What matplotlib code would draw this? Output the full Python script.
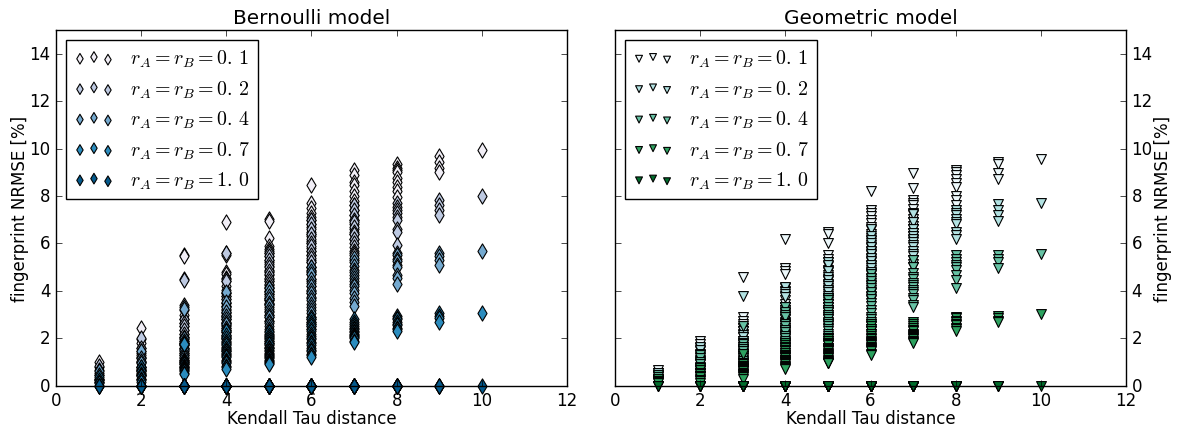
import numpy as np
import matplotlib
matplotlib.use("Agg")
import matplotlib.pyplot as plt

plt.style.use("classic")

tau = [1, 2, 3, 4, 5, 6, 7, 8, 9, 10]
rates = ["0.\\,1", "0.\\,2", "0.\\,4", "0.\\,7", "1.\\,0"]

bern_colors = ["#f1eef6", "#bdc9e1", "#74a9cf", "#2b8cbe", "#045a8d"]
geom_colors = ["#edf8fb", "#b2e2e2", "#66c2a4", "#2ca25f", "#006d2c"]

# NRMSE values, one list per Kendall Tau distance
bern_r01 = [
    [1.0, 0.8, 0.55, 0.3],
    [2.45, 1.95, 1.8, 1.6, 1.4, 1.2, 1.0, 0.8, 0.55],
    [5.5, 5.45, 3.4, 3.2, 3.0, 2.8, 2.65, 2.5, 2.35, 2.2, 2.05, 1.9, 1.75, 1.6, 1.4],
    [6.9, 5.6, 5.5, 4.8, 4.7, 4.55, 4.4, 4.2, 4.05, 3.9, 3.8, 3.65, 3.5, 3.35, 3.2, 3.05, 2.95, 2.8, 2.65, 2.5],
    [7.05, 6.95, 6.25, 5.9, 5.75, 5.6, 5.45, 5.3, 5.2, 5.05, 4.9, 4.8, 4.65, 4.5, 4.4, 4.25, 4.1, 4.0, 3.85, 3.7, 3.6, 3.45],
    [8.45, 7.7, 7.5, 7.3, 7.1, 7.0, 6.8, 6.7, 6.5, 6.4, 6.3, 6.1, 6.0, 5.8, 5.7, 5.5, 5.3, 5.2, 5.0, 4.8],
    [9.1, 8.9, 8.6, 8.45, 8.2, 8.0, 7.8, 7.6, 7.4, 7.2, 7.0, 6.8, 6.6, 6.4, 6.2],
    [9.35, 9.2, 9.1, 9.0, 8.75, 8.6, 8.4, 8.2, 7.95],
    [9.7, 9.45, 9.2, 9.0],
    [9.95],
]
bern_r02 = [
    [0.82, 0.65, 0.45, 0.25],
    [2.0, 1.6, 1.45, 1.3, 1.15, 1.0, 0.8, 0.65, 0.45],
    [4.5, 4.45, 2.8, 2.65, 2.5, 2.35, 2.2, 2.05, 1.95, 1.8, 1.7, 1.55, 1.45, 1.3, 1.15],
    [5.6, 4.5, 4.4, 3.9, 3.8, 3.65, 3.5, 3.35, 3.25, 3.1, 3.0, 2.9, 2.8, 2.65, 2.55, 2.45, 2.35, 2.25, 2.1, 2.0],
    [5.7, 5.6, 5.45, 5.3, 5.15, 5.0, 4.85, 4.7, 4.55, 4.4, 4.3, 4.15, 4.0, 3.85, 3.7, 3.6, 3.45, 3.3, 3.15, 3.0, 2.9, 2.75],
    [7.0, 6.8, 6.6, 6.4, 6.2, 6.0, 5.9, 5.7, 5.5, 5.4, 5.2, 5.0, 4.9, 4.7, 4.5, 4.4, 4.2, 4.0, 3.9, 3.7],
    [7.6, 7.4, 7.2, 7.0, 6.9, 6.7, 6.5, 6.4, 6.2, 6.0, 5.85, 5.7, 5.6, 5.5, 5.3],
    [7.7, 7.55, 7.4, 7.3, 7.1, 7.0, 6.6, 6.5, 5.95],
    [7.85, 7.6, 7.4, 7.2],
    [8.0],
]
bern_r04 = [
    [0.6, 0.45, 0.3, 0.15],
    [1.45, 1.15, 1.05, 0.95, 0.8, 0.7, 0.6, 0.45, 0.3],
    [3.3, 3.25, 2.0, 1.9, 1.8, 1.7, 1.6, 1.5, 1.4, 1.3, 1.2, 1.1, 1.0, 0.9, 0.8],
    [3.95, 3.55, 3.3, 3.1, 2.95, 2.8, 2.7, 2.6, 2.45, 2.35, 2.25, 2.15, 2.05, 1.95, 1.85, 1.75, 1.65, 1.55, 1.45, 1.35],
    [4.1, 3.95, 3.8, 3.65, 3.5, 3.4, 3.25, 3.1, 3.0, 2.9, 2.75, 2.65, 2.5, 2.4, 2.3, 2.2, 2.1, 2.0, 1.9, 1.8, 1.7, 1.6],
    [5.0, 4.85, 4.7, 4.5, 4.35, 4.2, 4.05, 3.9, 3.75, 3.6, 3.45, 3.3, 3.2, 3.05, 2.9, 2.8, 2.7, 2.6, 2.5, 2.4],
    [5.4, 5.2, 5.05, 4.9, 4.8, 4.65, 4.55, 4.4, 4.3, 4.2, 4.05, 3.9, 3.7, 3.55, 3.35],
    [5.6, 5.5, 5.35, 5.25, 5.1, 5.0, 4.65, 4.55, 4.3],
    [5.6, 5.45, 5.3, 5.1],
    [5.7],
]
bern_r07 = [
    [0.35, 0.25, 0.15, 0.1],
    [0.8, 0.65, 0.6, 0.5, 0.45, 0.4, 0.3, 0.25, 0.15],
    [1.8, 1.75, 1.1, 1.05, 1.0, 0.95, 0.9, 0.85, 0.8, 0.75, 0.7, 0.65, 0.6, 0.55, 0.5],
    [2.3, 2.15, 2.0, 1.9, 1.8, 1.7, 1.6, 1.5, 1.45, 1.4, 1.3, 1.25, 1.2, 1.1, 1.05, 1.0, 0.95, 0.85, 0.8, 0.7],
    [2.25, 2.15, 2.05, 1.95, 1.9, 1.8, 1.75, 1.65, 1.6, 1.5, 1.45, 1.4, 1.35, 1.3, 1.25, 1.2, 1.15, 1.1, 1.05, 1.0, 0.95, 0.9],
    [2.9, 2.8, 2.7, 2.6, 2.5, 2.4, 2.3, 2.2, 2.1, 2.0, 1.95, 1.85, 1.8, 1.7, 1.6, 1.5, 1.45, 1.35, 1.3, 1.2],
    [2.8, 2.7, 2.6, 2.5, 2.45, 2.4, 2.3, 2.25, 2.2, 2.15, 2.1, 2.05, 2.0, 1.9, 1.85],
    [2.95, 2.85, 2.8, 2.7, 2.6, 2.55, 2.45, 2.4, 2.3],
    [3.05, 2.95, 2.85, 2.7],
    [3.05],
]

geom_r01 = [
    [0.65, 0.55, 0.4, 0.25],
    [1.9, 1.75, 1.6, 1.45, 1.3, 1.1, 0.95, 0.75, 0.55],
    [4.6, 2.9, 2.75, 2.6, 2.45, 2.3, 2.2, 2.05, 1.9, 1.8, 1.65, 1.5, 1.4, 1.25, 1.1],
    [6.2, 4.95, 4.85, 4.7, 4.1, 4.0, 3.8, 3.6, 3.45, 3.3, 3.2, 3.05, 2.95, 2.8, 2.7, 2.55, 2.45, 2.3, 2.2, 2.1],
    [6.5, 6.4, 6.0, 5.5, 5.35, 5.2, 5.05, 4.9, 4.8, 4.65, 4.5, 4.4, 4.25, 4.1, 4.0, 3.85, 3.7, 3.6, 3.45, 3.3, 3.2, 3.1],
    [8.2, 7.4, 7.3, 7.15, 7.0, 6.85, 6.7, 6.55, 6.4, 6.25, 6.1, 5.95, 5.8, 5.65, 5.5, 5.35, 5.2, 5.05, 4.9, 4.75],
    [8.95, 8.35, 7.85, 7.7, 7.6, 7.45, 7.3, 7.2, 7.05, 6.9, 6.75, 6.6, 6.45, 6.3, 6.15],
    [9.1, 9.0, 8.9, 8.7, 8.55, 8.4, 8.0, 7.85, 7.6],
    [9.45, 9.35, 8.95, 8.7],
    [9.55],
]
geom_r02 = [
    [0.55, 0.45, 0.3, 0.2],
    [1.65, 1.5, 1.35, 1.2, 1.05, 0.9, 0.75, 0.6, 0.4],
    [3.8, 2.45, 2.3, 2.15, 2.05, 1.9, 1.8, 1.7, 1.55, 1.45, 1.35, 1.25, 1.15, 1.0, 0.9],
    [4.15, 3.95, 3.85, 3.75, 3.3, 3.2, 3.05, 2.9, 2.8, 2.65, 2.55, 2.45, 2.35, 2.25, 2.15, 2.05, 1.95, 1.85, 1.75, 1.65],
    [5.2, 5.1, 4.85, 4.6, 4.45, 4.3, 4.2, 4.05, 3.95, 3.8, 3.7, 3.55, 3.45, 3.3, 3.2, 3.1, 3.0, 2.9, 2.8, 2.65, 2.55, 2.45],
    [6.6, 6.3, 6.15, 6.0, 5.85, 5.7, 5.55, 5.4, 5.25, 5.1, 4.95, 4.8, 4.65, 4.5, 4.35, 4.2, 4.05, 3.9, 3.75, 3.6],
    [7.25, 6.9, 6.6, 6.45, 6.3, 6.2, 6.05, 5.95, 5.85, 5.7, 5.55, 5.45, 5.3, 5.15, 5.0],
    [7.4, 7.3, 7.2, 7.05, 6.9, 6.8, 6.5, 6.35, 6.2],
    [7.65, 7.4, 7.2, 6.95],
    [7.7],
]
geom_r04 = [
    [0.45, 0.35, 0.25, 0.15],
    [1.3, 1.15, 1.0, 0.9, 0.8, 0.65, 0.55, 0.4, 0.3],
    [2.5, 1.75, 1.65, 1.55, 1.45, 1.35, 1.25, 1.15, 1.05, 0.95, 0.85, 0.75, 0.7, 0.6, 0.5],
    [3.3, 3.1, 3.0, 2.9, 2.6, 2.5, 2.35, 2.25, 2.1, 2.0, 1.9, 1.8, 1.7, 1.6, 1.5, 1.4, 1.3, 1.2, 1.1, 1.0],
    [3.7, 3.6, 3.45, 3.3, 3.2, 3.1, 3.0, 2.9, 2.8, 2.7, 2.6, 2.5, 2.4, 2.3, 2.2, 2.1, 2.0, 1.9, 1.8, 1.7, 1.6, 1.5],
    [4.7, 4.55, 4.4, 4.25, 4.1, 3.95, 3.8, 3.65, 3.5, 3.35, 3.2, 3.05, 2.9, 2.8, 2.7, 2.6, 2.5, 2.4, 2.3, 2.2],
    [5.3, 5.0, 4.75, 4.6, 4.5, 4.35, 4.25, 4.15, 4.05, 3.95, 3.85, 3.7, 3.6, 3.4, 3.3],
    [5.5, 5.35, 5.2, 5.1, 5.0, 4.9, 4.65, 4.45, 4.1],
    [5.5, 5.35, 5.2, 4.95],
    [5.55],
]
geom_r07 = [
    [0.3, 0.2, 0.15, 0.1],
    [0.75, 0.65, 0.55, 0.5, 0.4, 0.35, 0.25, 0.2, 0.1],
    [1.35, 0.95, 0.9, 0.85, 0.8, 0.75, 0.7, 0.65, 0.6, 0.55, 0.5, 0.45, 0.4, 0.35, 0.3],
    [1.8, 1.7, 1.65, 1.6, 1.5, 1.45, 1.4, 1.3, 1.25, 1.2, 1.15, 1.1, 1.05, 1.0, 0.95, 0.9, 0.85, 0.8, 0.75, 0.7],
    [2.0, 1.95, 1.9, 1.8, 1.75, 1.7, 1.6, 1.55, 1.5, 1.45, 1.4, 1.35, 1.3, 1.25, 1.2, 1.15, 1.1, 1.05, 1.0, 0.95, 0.95, 0.95],
    [2.6, 2.5, 2.4, 2.3, 2.2, 2.1, 2.0, 1.95, 1.9, 1.85, 1.8, 1.75, 1.7, 1.65, 1.6, 1.55, 1.5, 1.45, 1.35, 1.3],
    [2.7, 2.6, 2.5, 2.45, 2.35, 2.3, 2.2, 2.15, 2.1, 2.05, 2.0, 1.95, 1.9, 1.85, 1.8],
    [2.9, 2.85, 2.75, 2.7, 2.6, 2.55, 2.45, 2.4, 2.3],
    [2.95, 2.85, 2.75, 2.7],
    [3.03],
]

# r_A = r_B = 1.0 gives zero error in both models
zero_err = [
    [0, 0, 0, 0],
    [0, 0, 0, 0, 0, 0, 0, 0, 0],
    [0, 0, 0, 0, 0, 0, 0, 0, 0, 0, 0, 0, 0, 0, 0],
    [0, 0, 0, 0, 0, 0, 0, 0, 0, 0, 0, 0, 0, 0, 0, 0, 0, 0, 0, 0],
    [0, 0, 0, 0, 0, 0, 0, 0, 0, 0, 0, 0, 0, 0, 0, 0, 0, 0, 0, 0, 0, 0],
    [0, 0, 0, 0, 0, 0, 0, 0, 0, 0, 0, 0, 0, 0, 0, 0, 0, 0, 0, 0],
    [0, 0, 0, 0, 0, 0, 0, 0, 0, 0, 0, 0, 0, 0, 0],
    [0, 0, 0, 0, 0, 0, 0, 0, 0],
    [0, 0, 0, 0],
    [0],
]

bern_series = [bern_r01, bern_r02, bern_r04, bern_r07, zero_err]
geom_series = [geom_r01, geom_r02, geom_r04, geom_r07, zero_err]


def flatten(series):
    xs = []
    ys = []
    for t, vals in zip(tau, series):
        xs += [t] * len(vals)
        ys += vals
    return np.array(xs), np.array(ys)


fig = plt.figure(figsize=(11.78, 4.35), dpi=100)
fig.patch.set_facecolor("white")

ax1 = fig.add_axes([0.0475, 0.111, 0.4338, 0.8177])
ax2 = fig.add_axes([0.5221, 0.111, 0.4338, 0.8177])

panels = [
    (ax1, bern_series, bern_colors, "d", 60, "Bernoulli model"),
    (ax2, geom_series, geom_colors, "v", 50, "Geometric model"),
]

for ax, series, colors, marker, size, title in panels:
    for vals, col, r in zip(series, colors, rates):
        x, y = flatten(vals)
        ax.scatter(x, y, s=size, marker=marker, c=col, edgecolors="black",
                   linewidths=0.8, label=r"$r_A = r_B = %s$" % r, clip_on=False)
    ax.set_xlim(0, 12)
    ax.set_ylim(0, 15)
    ax.set_xticks([0, 2, 4, 6, 8, 10, 12])
    ax.set_yticks([0, 2, 4, 6, 8, 10, 12, 14])
    ax.set_xlabel("Kendall Tau distance", labelpad=0)
    ax.set_title(title, fontsize=14.4)
    ax.legend(loc="upper left", scatterpoints=3, markerscale=0.7, fontsize=14.4,
              labelspacing=0.45)

ax1.set_ylabel("fingerprint NRMSE [%]", labelpad=0)
ax2.yaxis.set_label_position("right")
ax2.yaxis.tick_right()
ax2.yaxis.set_ticks_position("both")
ax2.tick_params(axis="y", labelleft=False, labelright=True)
ax2.set_ylabel("fingerprint NRMSE [%]", labelpad=1)

plt.savefig("out.png", dpi=100, facecolor="white")
